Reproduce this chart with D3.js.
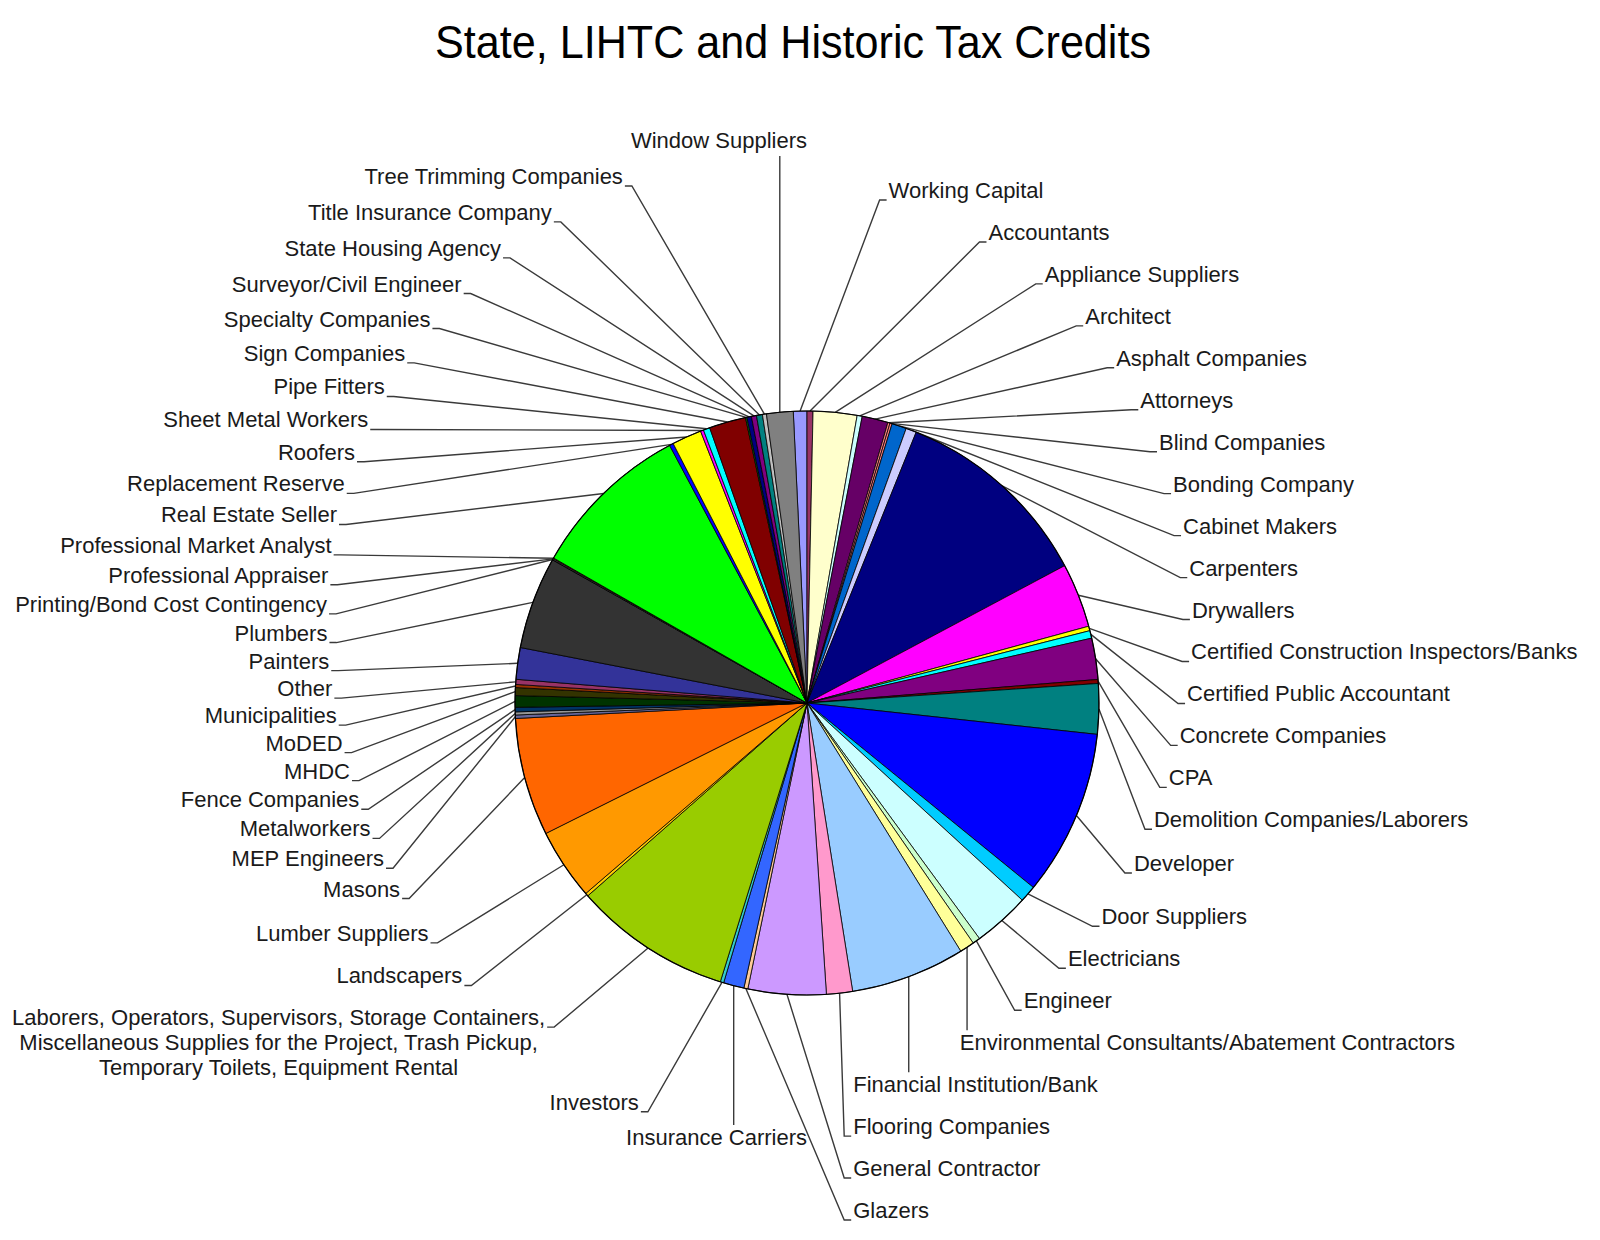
<!DOCTYPE html>
<html>
<head>
<meta charset="utf-8">
<script src="https://cdn.jsdelivr.net/npm/d3@7"></script>
<style>
  html, body { margin: 0; padding: 0; background: #fff; }
  svg text { font-family: "Liberation Sans", Arial, sans-serif; }
</style>
</head>
<body>
<div id="app"></div>
<script>
// slices in clockwise order, first one starts just left of 12 o'clock
const categories = [
  "Working Capital", "Accountants", "Appliance Suppliers", "Architect", "Asphalt Companies",
  "Attorneys", "Blind Companies", "Bonding Company", "Cabinet Makers", "Carpenters",
  "Drywallers", "Certified Construction Inspectors/Banks", "Certified Public Accountant",
  "Concrete Companies", "CPA", "Demolition Companies/Laborers", "Developer", "Door Suppliers",
  "Electricians", "Engineer", "Environmental Consultants/Abatement Contractors",
  "Financial Institution/Bank", "Flooring Companies", "General Contractor", "Glazers",
  "Insurance Carriers", "Investors",
  "Laborers, Operators, Supervisors, Storage Containers,\nMiscellaneous Supplies for the Project, Trash Pickup,\nTemporary Toilets, Equipment Rental",
  "Landscapers", "Lumber Suppliers", "Masons", "MEP Engineers", "Metalworkers",
  "Fence Companies", "MHDC", "MoDED", "Municipalities", "Other", "Painters", "Plumbers",
  "Printing/Bond Cost Contingency", "Professional Appraiser", "Professional Market Analyst",
  "Real Estate Seller", "Replacement Reserve", "Roofers", "Sheet Metal Workers", "Pipe Fitters",
  "Sign Companies", "Specialty Companies", "Surveyor/Civil Engineer", "State Housing Agency",
  "Title Insurance Company", "Tree Trimming Companies", "Window Suppliers"
];

// share of the total, in percent
const shares = [
  0.75, 0.33, 2.42, 0.28, 1.44,
  0.12, 0.12, 0.81, 0.58, 11.11,
  3.56, 0.25, 0.42,
  2.28, 0.22, 2.78, 9.17, 0.92,
  3.14, 0.42, 0.81,
  6.33, 1.44, 4.31, 0.22,
  1.14, 0.19,
  8.72,
  0.17, 3.94, 6.53, 0.19, 0.17,
  0.25, 0.64, 0.44, 0.17, 0.28, 1.75, 5.11,
  0.04, 0.04, 0.04,
  8.93, 0.22, 1.64, 0.17, 0.36,
  2.03, 0.08, 0.25, 0.28,
  0.33, 0.22, 1.47
];

const colors = [
  "#9999ff", "#993366", "#ffffcc", "#ccffff", "#660066",
  "#ff8080", "#ff8080", "#0066cc", "#ccccff", "#000080",
  "#ff00ff", "#ffff00", "#00ffff",
  "#800080", "#800000", "#008080", "#0000ff", "#00ccff",
  "#ccffff", "#ccffcc", "#ffff99",
  "#99ccff", "#ff99cc", "#cc99ff", "#ffcc99",
  "#3366ff", "#33cccc",
  "#99cc00",
  "#ffcc00", "#ff9900", "#ff6600", "#666699", "#969696",
  "#003366", "#003300", "#333300", "#993300", "#993366", "#333399", "#333333",
  "#000000", "#ffffff", "#ff0000",
  "#00ff00", "#0000ff", "#ffff00", "#ff00ff", "#00ffff",
  "#800000", "#008000", "#000080", "#800080",
  "#008080", "#c0c0c0", "#808080"
];

const title = "State, LIHTC and Historic Tax Credits";

const width = 1600;
const height = 1240;
const cx = 807;
const cy = 703;
const radius = 292;
const fontSize = 22;
const lineH = 25;
const naturalR = 415;

const toRad = d => d * Math.PI / 180;
const startAngle = toRad(-2.7);

const svg = d3.select('#app')
  .append('svg')
  .attr('width', width)
  .attr('height', height)
  .style('display', 'block')
  .style('background', '#fff');

svg.append('text')
  .attr('x', 793)
  .attr('y', 58)
  .attr('text-anchor', 'middle')
  .attr('font-size', 46)
  .attr('fill', '#000')
  .attr('textLength', 716)
  .attr('lengthAdjust', 'spacingAndGlyphs')
  .text(title);

const data = categories.map((c, i) => ({ name: c, value: shares[i], color: colors[i] }));

const pie = d3.pie()
  .value(d => d.value)
  .sort(null)
  .startAngle(startAngle)
  .endAngle(startAngle + 2 * Math.PI);

const arcs = pie(data);
const arc = d3.arc().innerRadius(0).outerRadius(radius);

// label bookkeeping
const labels = arcs.map(d => {
  const mid = (d.startAngle + d.endAngle) / 2;
  const deg = ((mid * 180 / Math.PI) % 360 + 360) % 360;
  const key = (deg + 3) % 360;
  const lines = d.data.name.split('\n');
  return {
    d, mid, key, lines,
    side: key < 196 ? 'right' : 'left',
    extra: (lines.length - 1) * lineH,
    y: cy - naturalR * Math.cos(mid),
    px: cx + radius * Math.sin(mid),
    py: cy - radius * Math.cos(mid)
  };
});

// push overlapping labels apart, keeping them between lo and hi
const relax = (items, gapAt, lo, hi) => {
  for (let it = 0; it < 6000; it++) {
    let moved = false;
    for (let i = 0; i < items.length - 1; i++) {
      const a = items[i], b = items[i + 1];
      const gap = gapAt((a.y + a.extra + b.y) / 2);
      const over = a.y + a.extra + gap - b.y;
      if (over > 0.05) {
        a.y -= over / 2;
        b.y += over / 2;
        moved = true;
      }
    }
    items.forEach(o => { o.y = Math.max(lo, Math.min(hi - o.extra, o.y)); });
    if (!moved) break;
  }
};

const right = labels.filter(l => l.side === 'right').sort((a, b) => a.key - b.key);
const left = labels.filter(l => l.side === 'left').sort((a, b) => b.key - a.key);
relax(right, () => 42, 190, 1210);
relax(left, y => 27 + 9 * Math.min(1, Math.abs(y - cy) / 450), 140, 1160);

const leaderG = svg.append('g')
  .attr('fill', 'none')
  .attr('stroke', '#3a3a3a')
  .attr('stroke-width', 1.4);

const labelG = svg.append('g')
  .attr('font-size', fontSize)
  .attr('fill', '#1a1a1a');

labels.forEach(l => {
  const texts = l.lines.map((s, i) => labelG.append('text')
    .attr('text-anchor', 'middle')
    .attr('y', l.y + 8 + i * lineH)
    .text(s));
  const w = d3.max(texts, t => t.node().getComputedTextLength());

  let x0, x1;
  if (l.side === 'right') {
    const ry = l.y < 620 ? 440 : 460;
    const t = (l.y - 620) / ry;
    const f = Math.max(0.12, Math.sqrt(Math.max(0, 1 - t * t)));
    x0 = Math.min(cx + 385 * f, width - 12 - w);
    x1 = x0 + w;
  } else {
    const ry = l.y < 610 ? 470 : 525;
    const t = (l.y - 610) / ry;
    const f = Math.sqrt(Math.max(0, 1 - t * t));
    x1 = Math.max(cx - 480 * f, 12 + w);
    x0 = x1 - w;
  }
  texts.forEach(t => t.attr('x', (x0 + x1) / 2));

  const base = l.y + 8;
  const top = base - 17;
  const bottom = base + 5 + l.extra;
  let pts;
  if (l.px > x0 + 4 && l.px < x1 - 4) {
    pts = l.py < top
      ? [[l.px, l.py], [l.px, top - 3]]
      : [[l.px, l.py], [l.px, bottom + 3]];
  } else if (l.side === 'right') {
    pts = [[l.px, l.py], [x0 - 9, base + 2], [x0 - 2, base + 2]];
  } else {
    pts = [[l.px, l.py], [x1 + 9, base + 2], [x1 + 2, base + 2]];
  }
  leaderG.append('path').attr('d', d3.line()(pts));
});

const g = svg.append('g')
  .attr('transform', `translate(${cx},${cy})`);

g.selectAll('path')
  .data(arcs)
  .enter()
  .append('path')
  .attr('d', arc)
  .attr('fill', d => d.data.color)
  .attr('stroke', '#000')
  .attr('stroke-width', 0.8)
  .attr('stroke-linejoin', 'round');

g.append('circle')
  .attr('r', radius)
  .attr('fill', 'none')
  .attr('stroke', '#000')
  .attr('stroke-width', 1.2);
</script>
</body>
</html>
